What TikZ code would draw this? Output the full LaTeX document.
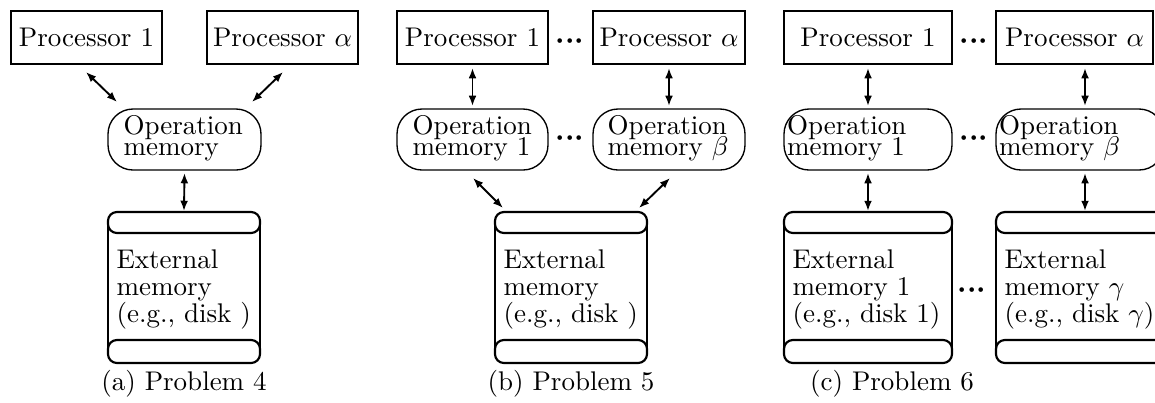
\documentclass[tikz,border=0pt]{standalone}
\usetikzlibrary{arrows.meta,calc}
\newcommand\pxu{0.3704pt}
\newcommand\tightlines{\lineskiplimit=-20pt\relax}
\newcommand\tdots{$\mathord{\cdot}\mathord{\cdot}\mathord{\cdot}$}
\tikzset{
  proc/.style={draw, line width=0.9pt, minimum height=19.63pt, inner sep=0pt, outer sep=0pt, font=\fontsize{10}{12}\selectfont},
  opmem/.style={draw, line width=0.5pt, rounded corners=9.26pt, minimum height=22.6pt, inner sep=0pt, outer sep=0pt},
  optext/.style={anchor=west, inner sep=0pt, align=left, font=\fontsize{10}{7.7}\selectfont\tightlines},
  disknode/.style={minimum height=55.93pt, inner sep=0pt, outer sep=0pt},
  disktext/.style={anchor=west, inner sep=0pt, align=left, font=\fontsize{10}{10}\selectfont\tightlines},
  diskline/.style={line width=0.8pt},
  arr/.style={<->, >={Latex[length=3.8pt,width=2.9pt]}, line width=0.7pt},
  dotsn/.style={inner sep=0pt, font=\fontsize{11}{12}\selectfont\boldmath},
  capt/.style={inner sep=0pt, font=\fontsize{10}{12}\selectfont}
}
\newcommand\drawdisk[1]{%
  \draw[diskline, rounded corners=3.3pt] (#1.north west) rectangle ($(#1.north east)+(0,21)$);
  \draw[diskline, rounded corners=3.3pt] ($(#1.south west)+(0,-23)$) rectangle (#1.south east);
  \draw[diskline] ($(#1.north west)+(0,10)$) -- ($(#1.south west)+(0,-11)$);
  \draw[diskline] ($(#1.north east)+(0,10)$) -- ($(#1.south east)+(0,-11)$);
}
\begin{document}
\begin{tikzpicture}[x=\pxu, y=-\pxu]
\useasboundingbox (0,0) rectangle (1155,402);
\begin{scope}
\clip (0,0) rectangle (1155,402);

% ---------- (a) ----------
\node[proc, minimum width=55.93pt] (P1a) at (86.5,37.5) {Processor 1};
\node[proc, minimum width=55.93pt] (Paa) at (282.5,37.5) {Processor $\alpha$};
\node[opmem, minimum width=56.67pt] (OMa) at (184.5,139.5) {};
\node[optext] (OMat) at ($(OMa.west)+(15,-1)$) {Operation\\memory};
\node[disknode, minimum width=56.3pt] (Da) at (184,287.5) {};
\drawdisk{Da}
\node[disktext] (Dat) at ($(Da.west)+(8,1.5)$) {External\\memory\\(e.g., disk )};
\draw[arr] ($(P1a.south)+(-0.5,8)$) -- ($(OMa.north)+(-67.5,-7)$);
\draw[arr] ($(Paa.south)+(0.5,8)$) -- ($(OMa.north)+(67.5,-7)$);
\draw[arr] ($(OMa.south)+(0,3)$) -- ($(Da.north)+(0,-1)$);
\node[capt] (capa) at (184,384) {(a) Problem 4};

% ---------- (b) ----------
\node[proc, minimum width=55.93pt] (P1b) at (472.5,37.5) {Processor 1};
\node[proc, minimum width=56.3pt] (Pab) at (669,37.5) {Processor $\alpha$};
\node[dotsn] (db1) at (570,41) {\tdots};
\node[opmem, minimum width=55.93pt] (OM1b) at (472.5,139.5) {};
\node[optext] (OM1bt) at ($(OM1b.west)+(15,-1)$) {Operation\\memory 1};
\node[opmem, minimum width=56.3pt] (OMbb) at (669,139.5) {};
\node[optext] (OMbbt) at ($(OMbb.west)+(14,-1)$) {Operation\\memory $\beta$};
\node[dotsn] (db2) at (570,138) {\tdots};
\node[disknode, minimum width=56.3pt] (Db) at (571,287.5) {};
\drawdisk{Db}
\node[disktext] (Dbt) at ($(Db.west)+(8,1.5)$) {External\\memory\\(e.g., disk )};
\draw[arr] ($(P1b.south)+(0,4)$) -- ($(OM1b.north)+(0,-3)$);
\draw[arr] ($(Pab.south)+(0,4)$) -- ($(OMbb.north)+(0,-3)$);
\draw[arr] ($(OM1b.south)+(0.5,8)$) -- ($(Db.north)+(-68,-4)$);
\draw[arr] ($(OMbb.south)+(1,8)$) -- ($(Db.north)+(68,-4)$);
\node[capt] (capb) at (571,384) {(b) Problem 5};

% ---------- (c) ----------
\node[proc, minimum width=62.23pt] (P1c) at (868,37.5) {Processor 1};
\node[proc, minimum width=58.15pt] (Pac) at (1074.5,37.5) {Processor $\alpha$};
\node[dotsn] (dc1) at (974,41) {\tdots};
\node[opmem, minimum width=62.23pt] (OM1c) at (868,139.5) {};
\node[optext] (OM1ct) at ($(OM1c.west)+(2.5,-1)$) {Operation\\memory 1};
\node[opmem, minimum width=62.23pt] (OMbc) at (1080,139.5) {};
\node[optext] (OMbct) at ($(OMbc.west)+(2.5,-1)$) {Operation\\memory $\beta$};
\node[dotsn] (dc2) at (974,138) {\tdots};
\node[disknode, minimum width=62.23pt] (D1c) at (868,287.5) {};
\drawdisk{D1c}
\node[disktext] (D1ct) at ($(D1c.west)+(8,1.5)$) {External\\memory 1\\(e.g., disk 1)};
\node[disknode, minimum width=62.23pt] (Dgc) at (1080,287.5) {};
\drawdisk{Dgc}
\node[disktext] (Dgct) at ($(Dgc.west)+(8,1.5)$) {External\\memory $\gamma$\\(e.g., disk $\gamma$)};
\node[dotsn] (dc3) at (972,290) {\tdots};
\draw[arr] ($(P1c.south)+(0,4)$) -- ($(OM1c.north)+(0,-3)$);
\draw[arr] ($(Pac.south)+(10.5,4)$) -- ($(OMbc.north)+(5,-3)$);
\draw[arr] ($(OM1c.south)+(0,3)$) -- ($(D1c.north)+(0,-1)$);
\draw[arr] ($(OMbc.south)+(5,3)$) -- ($(Dgc.north)+(5,-1)$);
\node[capt] (capc) at (892,384) {(c) Problem 6};
\end{scope}
\end{tikzpicture}
\end{document}
